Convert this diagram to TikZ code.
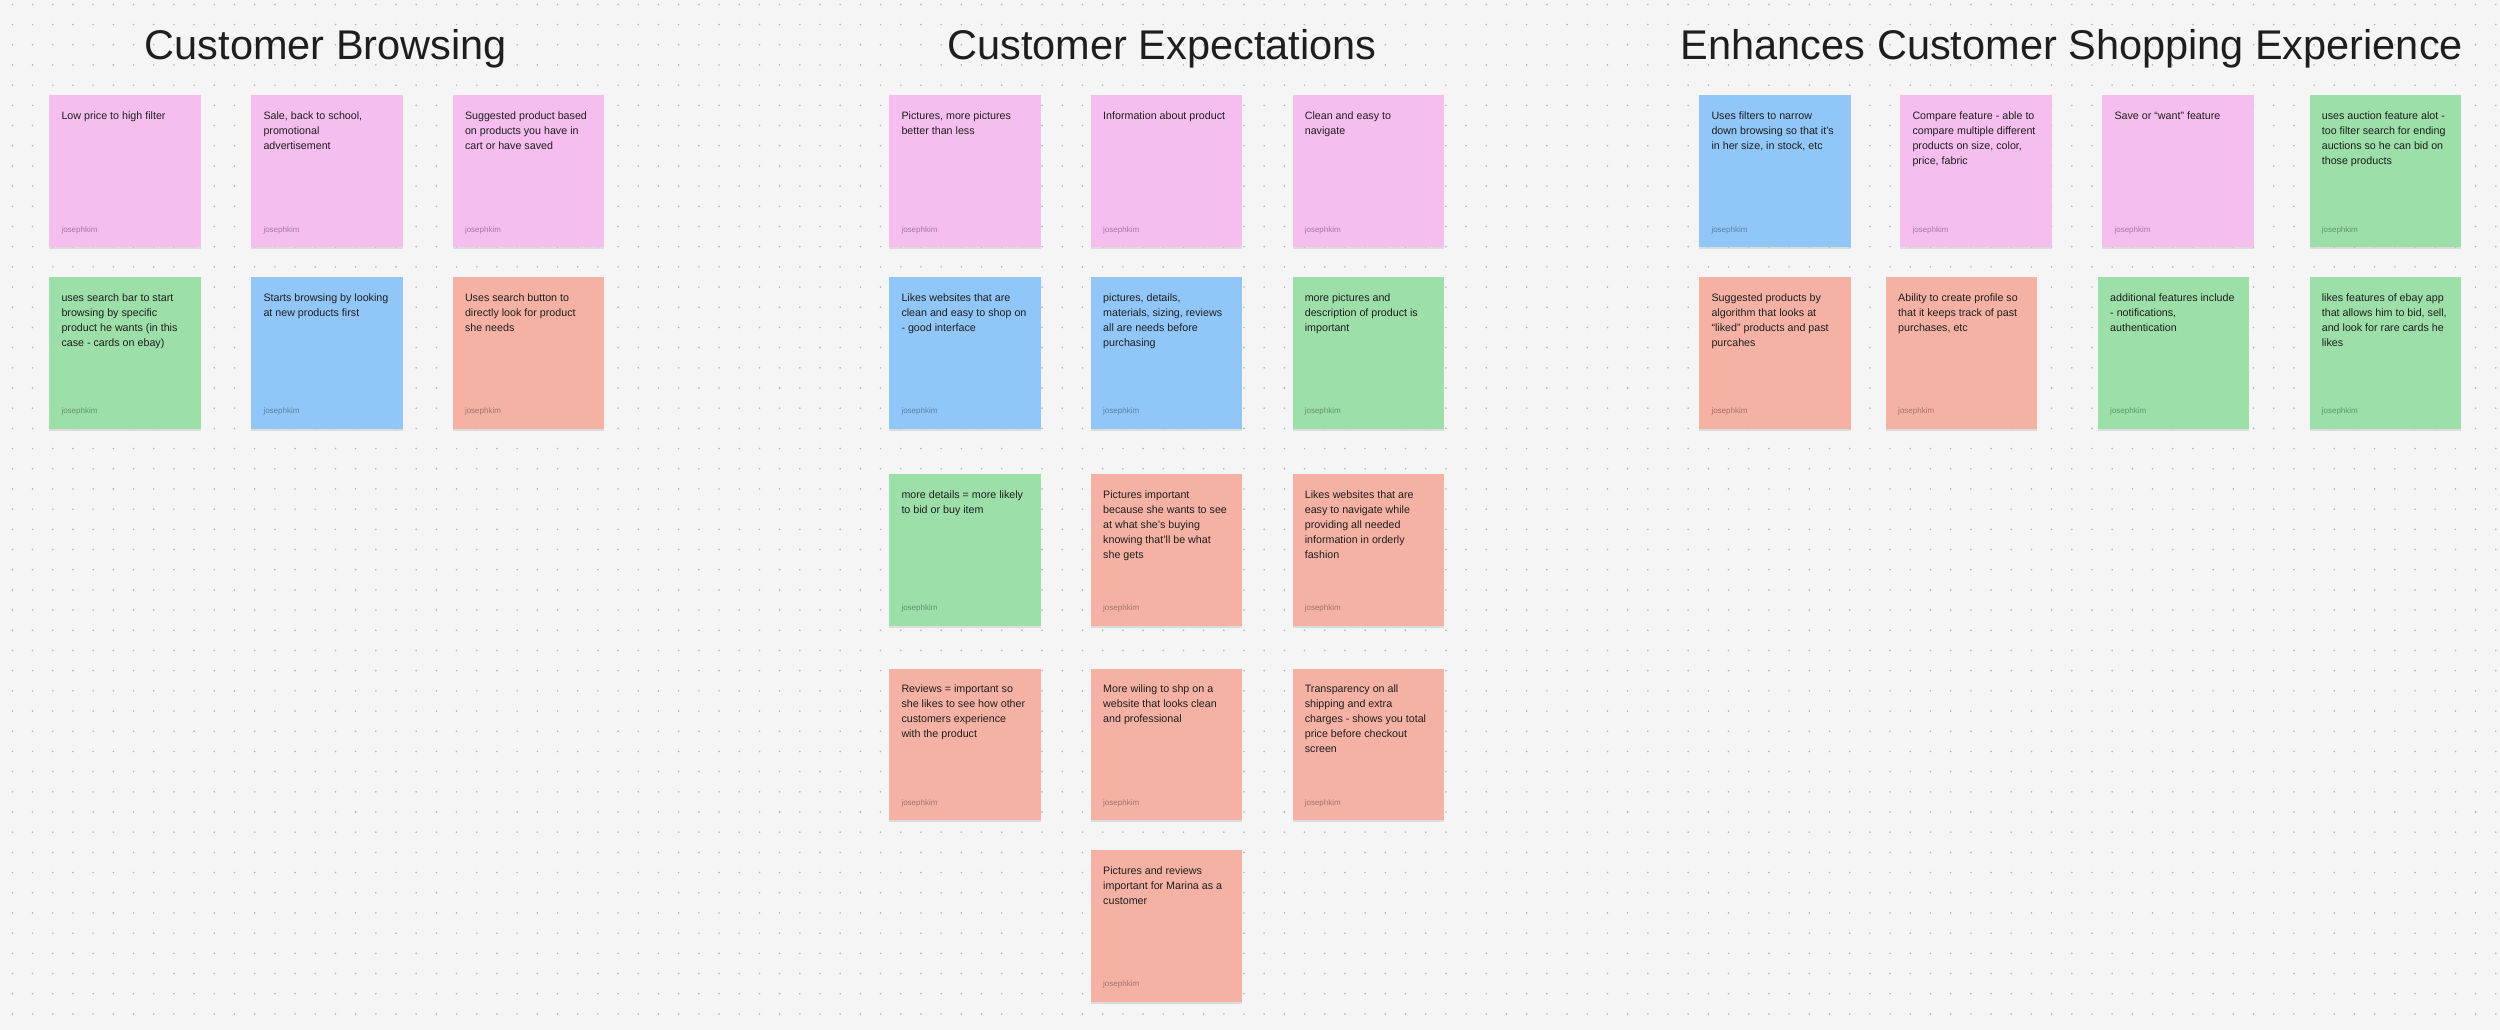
\documentclass[tikz,border=0pt]{standalone}
\usepackage{fontspec}
\setmainfont{Liberation Sans}
\usepackage{xcolor}
\usepackage{tikz}
\usetikzlibrary{positioning, shadows}
\definecolor{corFundo}{HTML}{F5F5F5}
\definecolor{corPonto}{HTML}{B4B4B4}
\definecolor{corTinta}{HTML}{1E1E1E}
\definecolor{notaRosa}{HTML}{F5BEEF}
\definecolor{notaAzul}{HTML}{90C6F8}
\definecolor{notaVerde}{HTML}{9CDFA8}
\definecolor{notaSalmao}{HTML}{F5B2A4}

\begin{document}
\begin{tikzpicture}[
    x=1pt, y=-1pt,
    note/.style={
        anchor=north west, inner sep=0pt,
        minimum width=151.3pt, minimum height=151.3pt,
        drop shadow={shadow xshift=0pt, shadow yshift=-2.5pt, opacity=0.10, fill=black}
    },
    notetxt/.style={
        anchor=north west, inner sep=0pt, align=left,
        font=\fontsize{10.7}{15}\selectfont, text=corTinta,
        xshift=12.3pt, yshift=-13.8pt
    },
    author/.style={
        anchor=base west, inner sep=0pt,
        font=\fontsize{8}{9}\selectfont, text=black, text opacity=0.35,
        xshift=12.3pt, yshift=15pt
    },
    heading/.style={anchor=base, inner sep=0pt, font=\fontsize{41.5}{48}\selectfont, text=corTinta}
]

\useasboundingbox (0,0) rectangle (2500,1030);
\fill[corFundo] (0,0) rectangle (2500,1030);
\foreach \i in {0,...,123}
    \foreach \j in {0,...,50}
        \fill[corPonto] (12.4+20.19*\i, 4.4+20.19*\j) circle (0.9pt);

\node[heading] (tBrowse) at (326,59.3) {Customer Browsing};
\node[heading] (tExpect) at (1162,59.3) {Customer Expectations};
\node[heading] (tEnhance) at (2072,59.3) {Enhances Customer Shopping Experience};

% Customer Browsing
\node[note, fill=notaRosa] (br1) at (49,95.3) {};
\node[note, fill=notaRosa] (br2) at (251,95.3) {};
\node[note, fill=notaRosa] (br3) at (452.5,95.3) {};
\node[note, fill=notaVerde] (br4) at (49,277) {};
\node[note, fill=notaAzul] (br5) at (251,277) {};
\node[note, fill=notaSalmao] (br6) at (452.5,277) {};

\node[notetxt] at (br1.north west) {\strut Low price to high filter};
\node[notetxt] at (br2.north west) {\strut Sale, back to school,\\ promotional\\ advertisement};
\node[notetxt] at (br3.north west) {\strut Suggested product based\\ on products you have in\\ cart or have saved};
\node[notetxt] at (br4.north west) {\strut uses search bar to start\\ browsing by specific\\ product he wants (in this\\ case - cards on ebay)};
\node[notetxt] at (br5.north west) {\strut Starts browsing by looking\\ at new products first};
\node[notetxt] at (br6.north west) {\strut Uses search button to\\ directly look for product\\ she needs};

% Customer Expectations
\node[note, fill=notaRosa] (ex1) at (889,95.3) {};
\node[note, fill=notaRosa] (ex2) at (1090.7,95.3) {};
\node[note, fill=notaRosa] (ex3) at (1292.3,95.3) {};
\node[note, fill=notaAzul] (ex4) at (889,277) {};
\node[note, fill=notaAzul] (ex5) at (1090.7,277) {};
\node[note, fill=notaVerde] (ex6) at (1292.3,277) {};
\node[note, fill=notaVerde] (ex7) at (889,474) {};
\node[note, fill=notaSalmao] (ex8) at (1090.7,474) {};
\node[note, fill=notaSalmao] (ex9) at (1292.3,474) {};
\node[note, fill=notaSalmao] (ex10) at (889,668.3) {};
\node[note, fill=notaSalmao] (ex11) at (1090.7,668.3) {};
\node[note, fill=notaSalmao] (ex12) at (1292.3,668.3) {};
\node[note, fill=notaSalmao] (ex13) at (1090.7,850) {};

\node[notetxt] at (ex1.north west) {\strut Pictures, more pictures\\ better than less};
\node[notetxt] at (ex2.north west) {\strut Information about product};
\node[notetxt] at (ex3.north west) {\strut Clean and easy to\\ navigate};
\node[notetxt] at (ex4.north west) {\strut Likes websites that are\\ clean and easy to shop on\\ - good interface};
\node[notetxt] at (ex5.north west) {\strut pictures, details,\\ materials, sizing, reviews\\ all are needs before\\ purchasing};
\node[notetxt] at (ex6.north west) {\strut more pictures and\\ description of product is\\ important};
\node[notetxt] at (ex7.north west) {\strut more details = more likely\\ to bid or buy item};
\node[notetxt] at (ex8.north west) {\strut Pictures important\\ because she wants to see\\ at what she’s buying\\ knowing that’ll be what\\ she gets};
\node[notetxt] at (ex9.north west) {\strut Likes websites that are\\ easy to navigate while\\ providing all needed\\ information in orderly\\ fashion};
\node[notetxt] at (ex10.north west) {\strut Reviews = important so\\ she likes to see how other\\ customers experience\\ with the product};
\node[notetxt] at (ex11.north west) {\strut More wiling to shp on a\\ website that looks clean\\ and professional};
\node[notetxt] at (ex12.north west) {\strut Transparency on all\\ shipping and extra\\ charges - shows you total\\ price before checkout\\ screen};
\node[notetxt] at (ex13.north west) {\strut Pictures and reviews\\ important for Marina as a\\ customer};

% Enhances Customer Shopping Experience
\node[note, fill=notaAzul] (en1) at (1699,95.3) {};
\node[note, fill=notaRosa] (en2) at (1900,95.3) {};
\node[note, fill=notaRosa] (en3) at (2102,95.3) {};
\node[note, fill=notaVerde] (en4) at (2309.3,95.3) {};
\node[note, fill=notaSalmao] (en5) at (1699,277) {};
\node[note, fill=notaSalmao] (en6) at (1885.7,277) {};
\node[note, fill=notaVerde] (en7) at (2097.7,277) {};
\node[note, fill=notaVerde] (en8) at (2309.3,277) {};

\node[notetxt] at (en1.north west) {\strut Uses filters to narrow\\ down browsing so that it’s\\ in her size, in stock, etc};
\node[notetxt] at (en2.north west) {\strut Compare feature - able to\\ compare multiple different\\ products on size, color,\\ price, fabric};
\node[notetxt] at (en3.north west) {\strut Save or “want” feature};
\node[notetxt] at (en4.north west) {\strut uses auction feature alot -\\ too filter search for ending\\ auctions so he can bid on\\ those products};
\node[notetxt] at (en5.north west) {\strut Suggested products by\\ algorithm that looks at\\ “liked” products and past\\ purcahes};
\node[notetxt] at (en6.north west) {\strut Ability to create profile so\\ that it keeps track of past\\ purchases, etc};
\node[notetxt] at (en7.north west) {\strut additional features include\\ - notifications,\\ authentication};
\node[notetxt] at (en8.north west) {\strut likes features of ebay app\\ that allows him to bid, sell,\\ and look for rare cards he\\ likes};

\foreach \n in {br1,br2,br3,br4,br5,br6,ex1,ex2,ex3,ex4,ex5,ex6,ex7,ex8,ex9,ex10,ex11,ex12,ex13,en1,en2,en3,en4,en5,en6,en7,en8}
    \node[author] at (\n.south west) {josephkim};

\end{tikzpicture}
\end{document}
